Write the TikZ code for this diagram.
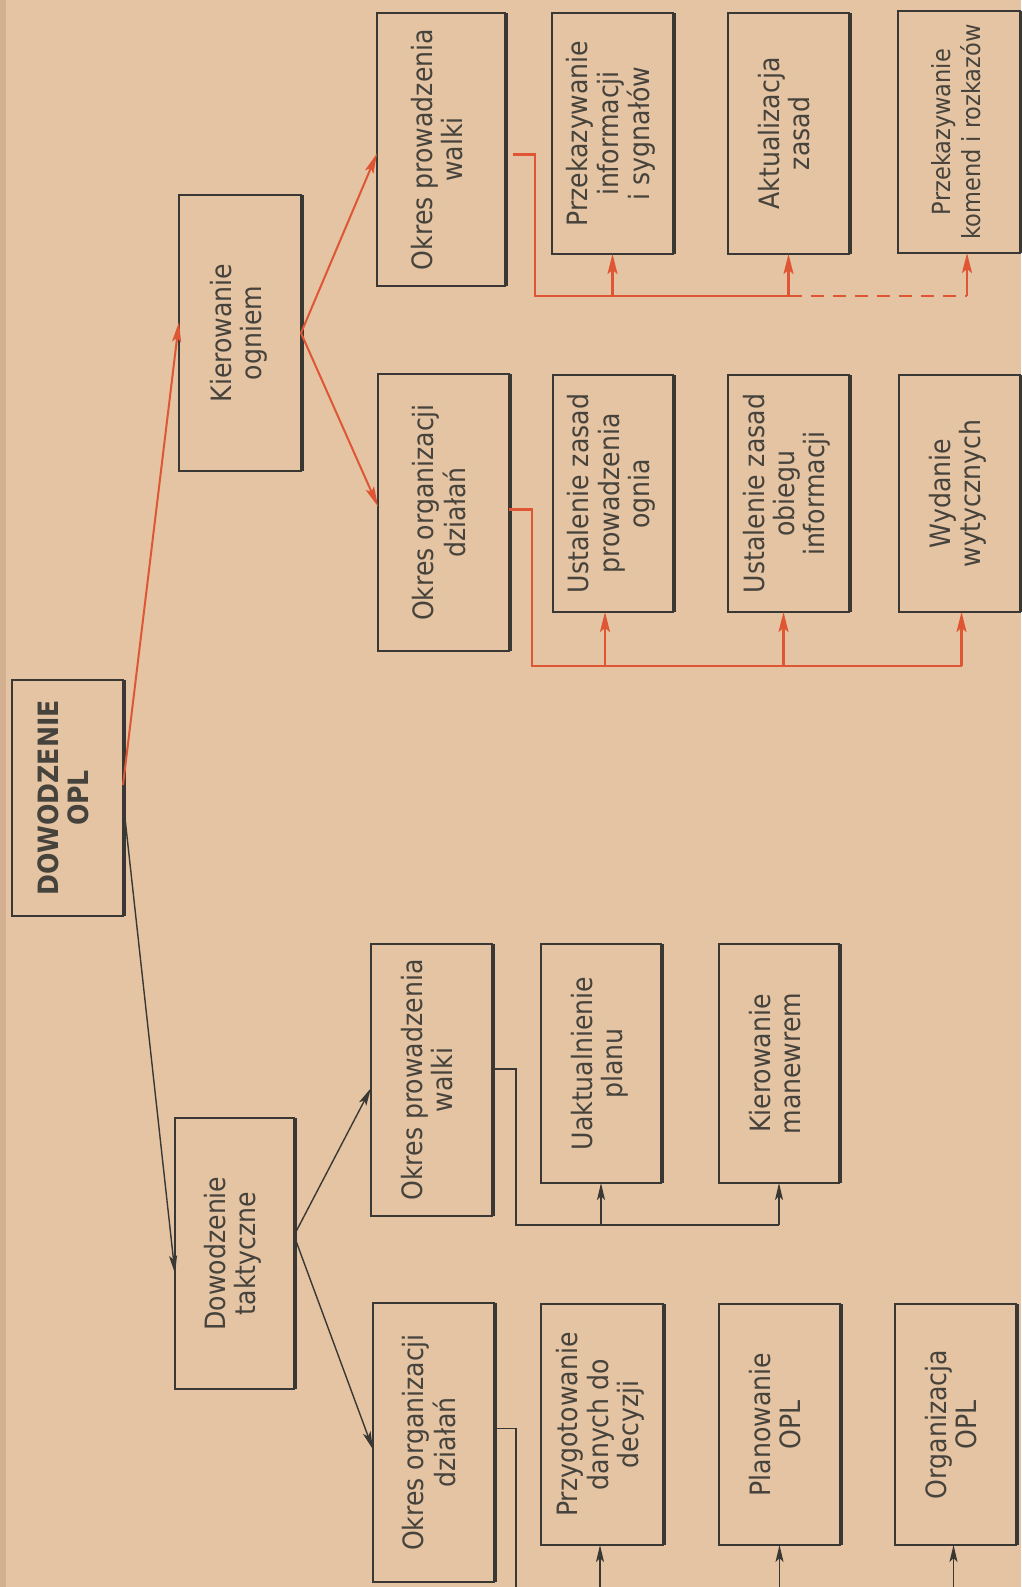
\documentclass[tikz,border=0pt]{standalone}
\usepackage{fontspec}
\setmainfont{DejaVu Sans Condensed}
\usetikzlibrary{arrows.meta}
\definecolor{paper}{RGB}{228,196,162}
\definecolor{paperedge}{RGB}{210,176,144}
\definecolor{ink}{RGB}{58,56,52}
\definecolor{txt}{RGB}{70,66,60}
\definecolor{redl}{RGB}{222,86,52}
\tikzset{
  box/.style={draw=ink, line width=2.2pt, rectangle, inner sep=0pt, outer sep=0pt,
    text=txt, font=\fontsize{28}{30}\selectfont},
  thickedge/.style={draw=ink, line width=4.5pt},
  redc/.style={draw=redl, line width=2pt, -{Stealth[length=20pt,width=9pt,inset=4pt]}},
  blkc/.style={draw=ink, line width=1.4pt, -{Stealth[length=18pt,width=8pt,inset=4pt]}},
  redb/.style={draw=redl, line width=2.2pt},
  redarr/.style={draw=redl, line width=2.2pt, -{Stealth[length=20pt,width=10pt,inset=4pt]}},
  reddash/.style={draw=redl, line width=2.2pt, dash pattern=on 13pt off 9pt},
  blkb/.style={draw=ink, line width=1.4pt},
  blkarr/.style={draw=ink, line width=1.4pt, -{Stealth[length=17pt,width=8pt,inset=4pt]}},
}
\newcommand\bx[6]{%
  \node[box, minimum width={(#4-#2)*1pt}, minimum height={(#5-#3)*1pt}] (#1)
    at ({(#2+#4)/2},{(#3+#5)/2})
    {\rotatebox{90}{\begin{tabular}{@{}c@{}}#6\end{tabular}}};
  \draw[thickedge] ([xshift=1pt]#1.north east) -- ([xshift=1pt]#1.south east);}
\begin{document}
\begin{tikzpicture}[x=1pt,y=-1pt]
\useasboundingbox (0,0) rectangle (1021,1587);
\fill[paper] (0,0) rectangle (1021,1587);
\fill[paperedge] (0,0) rectangle (6,1587);

% main nodes
\bx{dow}{12}{680}{123}{916}{\textbf{DOWODZENIE}\\\textbf{OPL}}
\bx{kog}{179}{195}{301}{471}{Kierowanie\\ogniem}
\bx{dtk}{175}{1118}{294}{1389}{Dowodzenie\\taktyczne}

% fire branch
\bx{owf}{377}{13}{505}{286}{Okres prowadzenia\\walki}
\bx{oof}{378}{374}{509}{651}{Okres organizacji\\działań}
\bx{pz}{552}{13}{673}{254}{Przekazywanie\\informacji\\i sygnałów}
\bx{ak}{728}{13}{849}{254}{Aktualizacja\\zasad}
\bx{pk}{898}{11}{1020}{253}{\fontsize{25}{30}\selectfont Przekazywanie\\\fontsize{25}{30}\selectfont komend i rozkazów}
\bx{uz}{553}{375}{673}{612}{Ustalenie zasad\\prowadzenia\\ognia}
\bx{uo}{728}{375}{849}{612}{Ustalenie zasad\\obiegu\\informacji}
\bx{wy}{899}{375}{1020}{612}{Wydanie\\wytycznych}

% tactical branch
\bx{owt}{371}{944}{492}{1216}{Okres prowadzenia\\walki}
\bx{oot}{373}{1303}{494}{1582}{Okres organizacji\\działań}
\bx{up}{541}{944}{661}{1183}{Uaktualnienie\\planu}
\bx{km}{719}{944}{839}{1183}{Kierowanie\\manewrem}
\bx{pd}{541}{1304}{663}{1545}{Przygotowanie\\danych do\\decyzji}
\bx{pl}{719}{1304}{840}{1545}{Planowanie\\OPL}
\bx{oo}{895}{1304}{1016}{1545}{Organizacja\\OPL}

% top-level connectors
\draw[redc] ([yshift=13pt]dow.east) -- ([yshift=11pt]kog.west);
\draw[blkc] ([yshift=-2pt]dow.east) -- ([yshift=-20pt]dtk.west);
\draw[redc] (kog.east) -- ([yshift=-4pt]owf.west);
\draw[redc] (kog.east) -- ([yshift=6pt]oof.west);
\draw[blkc] ([yshift=18pt]dtk.east) -- ([yshift=-8pt]owt.west);
\draw[blkc] ([yshift=18pt]dtk.east) -- ([yshift=-7pt]oot.west);

% fire: combat period bus
\coordinate (fwA) at ([xshift=8pt,yshift=-5pt]owf.east);
\coordinate (fwB) at (535,296);
\draw[redb] (fwA) -| (fwB) -- (ak.south |- fwB);
\draw[reddash] (ak.south |- fwB) -- ([xshift=8pt]pk.south |- fwB);
\draw[redarr] ([xshift=8pt]pk.south |- fwB) -- ([xshift=8pt]pk.south);
\draw[redarr] (pz.south |- fwB) -- (pz.south);
\draw[redarr] (ak.south |- fwB) -- (ak.south);

% fire: organisation bus
\coordinate (foA) at ([yshift=3pt]oof.east);
\coordinate (foB) at (532,666);
\draw[redb] (foA) -| (foB) -- ([xshift=2pt]wy.south |- foB);
\draw[redarr] ([xshift=-8pt]uz.south |- foB) -- ([xshift=-8pt]uz.south);
\draw[redarr] ([xshift=-5pt]uo.south |- foB) -- ([xshift=-5pt]uo.south);
\draw[redarr] ([xshift=2pt]wy.south |- foB) -- ([xshift=2pt]wy.south);

% tactical: combat period bus
\coordinate (twA) at ([xshift=2pt,yshift=11pt]owt.east);
\coordinate (twB) at (516,1225);
\draw[blkb] (twA) -| (twB) -- (km.south |- twB);
\draw[blkarr] (up.south |- twB) -- (up.south);
\draw[blkarr] (km.south |- twB) -- (km.south);

% tactical: organisation bus (continues past the bottom edge)
\coordinate (toA) at ([yshift=14pt]oot.east);
\coordinate (toB) at (516,1587);
\draw[blkb] (toA) -| (toB);
\coordinate (tbot) at (0,1587);
\draw[blkarr] ([xshift=-2pt]pd.south |- tbot) -- ([xshift=-2pt]pd.south);
\draw[blkarr] (pl.south |- tbot) -- (pl.south);
\draw[blkarr] ([xshift=-2pt]oo.south |- tbot) -- ([xshift=-2pt]oo.south);
\end{tikzpicture}
\end{document}
